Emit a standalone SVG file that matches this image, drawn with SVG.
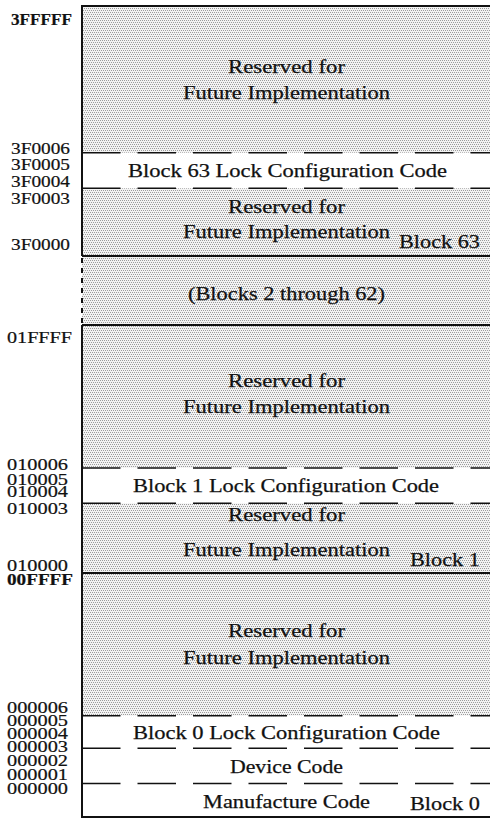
<svg xmlns="http://www.w3.org/2000/svg" width="490" height="821" viewBox="0 0 490 821">
<defs>
<pattern id="stip" patternUnits="userSpaceOnUse" width="4" height="4">
<rect width="4" height="4" fill="#f3f3f3"/>
<rect x="0" y="0" width="1" height="1" fill="#9c9c9c"/>
<rect x="2" y="0" width="1" height="1" fill="#9c9c9c"/>
<rect x="1" y="2" width="1" height="1" fill="#9c9c9c"/>
<rect x="3" y="2" width="1" height="1" fill="#9c9c9c"/>
</pattern>
</defs>
<style>
.sh{fill:url(#stip);}
.t{font-family:"Liberation Serif","Times New Roman",serif;font-size:18.5px;fill:#111;stroke:#111;stroke-width:0.25;}
.a{font-family:"Liberation Serif","Times New Roman",serif;font-size:16px;fill:#111;stroke:#111;stroke-width:0.2;}
.b{font-weight:bold;}
.solid{stroke:#111;stroke-width:2;fill:none;}
.dash{stroke:#111;stroke-width:1.6;fill:none;stroke-dasharray:38.5 17;}
.bdash{stroke:#111;stroke-width:2;fill:none;stroke-dasharray:5 5;}
</style>
<rect width="490" height="821" fill="#ffffff"/>

<g id="block63-reserved-top">
<rect class="sh" x="82" y="6" width="408" height="146.7"/>
<text class="t" x="228" y="73" textLength="117" lengthAdjust="spacingAndGlyphs">Reserved for</text>
<text class="t" x="183" y="99" textLength="207" lengthAdjust="spacingAndGlyphs">Future Implementation</text>
</g>
<g id="block63-lock">
<text class="t" x="128" y="177" textLength="319" lengthAdjust="spacingAndGlyphs">Block 63 Lock Configuration Code</text>
</g>
<g id="block63-reserved-low">
<rect class="sh" x="82" y="188.3" width="408" height="67.7"/>
<text class="t" x="228" y="213" textLength="117" lengthAdjust="spacingAndGlyphs">Reserved for</text>
<text class="t" x="183" y="238" textLength="207" lengthAdjust="spacingAndGlyphs">Future Implementation</text>
<text class="t" x="399" y="248" textLength="81" lengthAdjust="spacingAndGlyphs">Block 63</text>
</g>
<g id="blocks-2-62">
<rect class="sh" x="82" y="256" width="408" height="69"/>
<text class="t" x="188" y="300" textLength="197" lengthAdjust="spacingAndGlyphs">(Blocks 2 through 62)</text>
</g>
<g id="block1-reserved-top">
<rect class="sh" x="82" y="325" width="408" height="143"/>
<text class="t" x="228" y="387" textLength="117" lengthAdjust="spacingAndGlyphs">Reserved for</text>
<text class="t" x="183" y="413" textLength="207" lengthAdjust="spacingAndGlyphs">Future Implementation</text>
</g>
<g id="block1-lock">
<text class="t" x="133" y="492" textLength="306" lengthAdjust="spacingAndGlyphs">Block 1 Lock Configuration Code</text>
</g>
<g id="block1-reserved-low">
<rect class="sh" x="82" y="503.3" width="408" height="69.7"/>
<text class="t" x="228" y="521" textLength="117" lengthAdjust="spacingAndGlyphs">Reserved for</text>
<text class="t" x="183" y="556" textLength="207" lengthAdjust="spacingAndGlyphs">Future Implementation</text>
<text class="t" x="410" y="566" textLength="70" lengthAdjust="spacingAndGlyphs">Block 1</text>
</g>
<g id="block0-reserved">
<rect class="sh" x="82" y="573" width="408" height="142.7"/>
<text class="t" x="228" y="637" textLength="117" lengthAdjust="spacingAndGlyphs">Reserved for</text>
<text class="t" x="183" y="664" textLength="207" lengthAdjust="spacingAndGlyphs">Future Implementation</text>
</g>
<g id="block0-lock">
<text class="t" x="133" y="739" textLength="307" lengthAdjust="spacingAndGlyphs">Block 0 Lock Configuration Code</text>
</g>
<g id="device-code">
<text class="t" x="230" y="773" textLength="113" lengthAdjust="spacingAndGlyphs">Device Code</text>
</g>
<g id="manufacture-code">
<text class="t" x="203" y="808" textLength="167" lengthAdjust="spacingAndGlyphs">Manufacture Code</text>
<text class="t" x="410" y="810" textLength="70" lengthAdjust="spacingAndGlyphs">Block 0</text>
</g>

<g id="connectors">
<line class="solid" x1="81" y1="6" x2="490" y2="6"/>
<line class="solid" x1="82" y1="5" x2="82" y2="256"/>
<line class="bdash" x1="82" y1="258" x2="82" y2="323"/>
<line class="solid" x1="82" y1="325" x2="82" y2="818"/>
<line class="dash" x1="82" y1="152.7" x2="490" y2="152.7"/>
<line class="dash" x1="82" y1="188.3" x2="490" y2="188.3"/>
<line class="solid" x1="82" y1="256" x2="490" y2="256"/>
<line class="solid" x1="82" y1="325" x2="490" y2="325"/>
<line class="dash" x1="82" y1="468" x2="490" y2="468"/>
<line class="dash" x1="82" y1="503.3" x2="490" y2="503.3"/>
<line class="solid" x1="82" y1="573" x2="490" y2="573"/>
<line class="dash" x1="82" y1="715.7" x2="490" y2="715.7"/>
<line class="dash" x1="82" y1="748.3" x2="490" y2="748.3"/>
<line class="dash" x1="82" y1="783.5" x2="490" y2="783.5"/>
<line class="solid" x1="81" y1="817" x2="490" y2="817"/>
</g>

<g id="addresses">
<text class="a b" x="11" y="25" textLength="61" lengthAdjust="spacingAndGlyphs">3FFFFF</text>
<text class="a" x="11" y="154" textLength="59" lengthAdjust="spacingAndGlyphs">3F0006</text>
<text class="a" x="11" y="170" textLength="59" lengthAdjust="spacingAndGlyphs">3F0005</text>
<text class="a" x="11" y="187" textLength="59" lengthAdjust="spacingAndGlyphs">3F0004</text>
<text class="a" x="11" y="204" textLength="59" lengthAdjust="spacingAndGlyphs">3F0003</text>
<text class="a" x="11" y="250" textLength="59" lengthAdjust="spacingAndGlyphs">3F0000</text>
<text class="a" x="7" y="343" textLength="65" lengthAdjust="spacingAndGlyphs">01FFFF</text>
<text class="a" x="7" y="470" textLength="61" lengthAdjust="spacingAndGlyphs">010006</text>
<text class="a" x="7" y="485" textLength="61" lengthAdjust="spacingAndGlyphs">010005</text>
<text class="a" x="7" y="497" textLength="61" lengthAdjust="spacingAndGlyphs">010004</text>
<text class="a" x="7" y="514" textLength="61" lengthAdjust="spacingAndGlyphs">010003</text>
<text class="a" x="7" y="571" textLength="61" lengthAdjust="spacingAndGlyphs">010000</text>
<text class="a b" x="7" y="585" textLength="66" lengthAdjust="spacingAndGlyphs">00FFFF</text>
<text class="a" x="7" y="713" textLength="61" lengthAdjust="spacingAndGlyphs">000006</text>
<text class="a" x="7" y="726" textLength="61" lengthAdjust="spacingAndGlyphs">000005</text>
<text class="a" x="7" y="739" textLength="61" lengthAdjust="spacingAndGlyphs">000004</text>
<text class="a" x="7" y="752" textLength="61" lengthAdjust="spacingAndGlyphs">000003</text>
<text class="a" x="7" y="766" textLength="61" lengthAdjust="spacingAndGlyphs">000002</text>
<text class="a" x="7" y="780" textLength="61" lengthAdjust="spacingAndGlyphs">000001</text>
<text class="a" x="7" y="794" textLength="61" lengthAdjust="spacingAndGlyphs">000000</text>
</g>
</svg>
